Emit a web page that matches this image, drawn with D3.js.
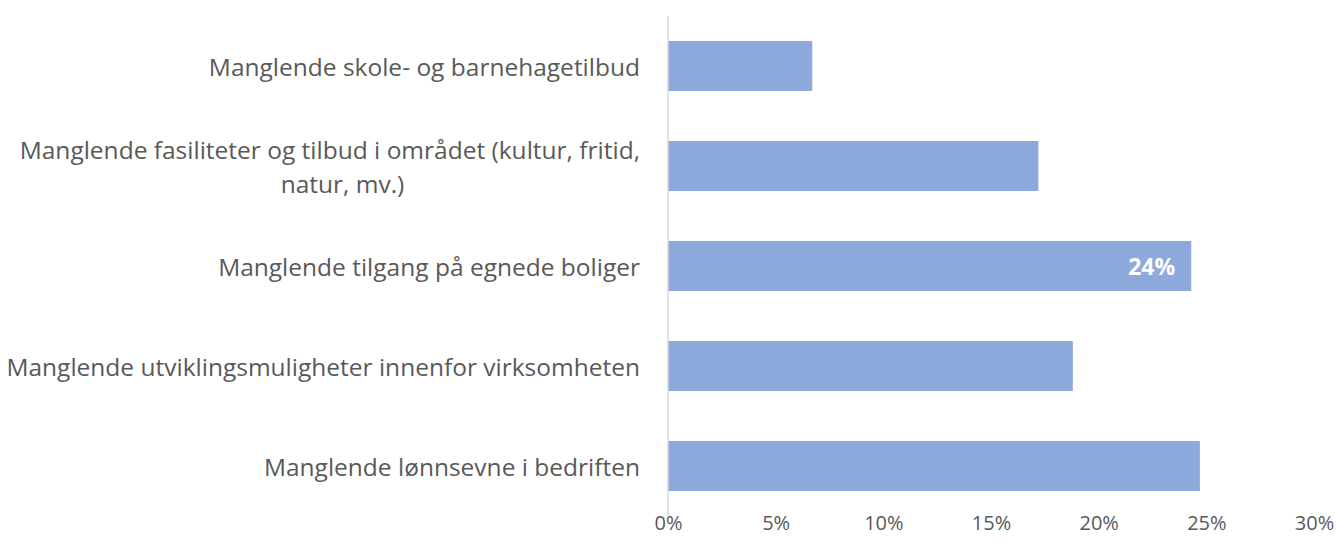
<!DOCTYPE html>
<html>
<head>
<meta charset="utf-8">
<script src="https://cdn.jsdelivr.net/npm/d3@7"></script>
<style>
  body { margin: 0; background: #fff; }
  text { font-family: "Open Sans", Lato, sans-serif; fill: #595959; }
</style>
</head>
<body>
<div id="chart"></div>
<script>
// categories top to bottom, each a list of lines
const categories = [
    ['Manglende skole- og barnehagetilbud'],
    ['Manglende fasiliteter og tilbud i området (kultur, fritid,', 'natur, mv.)'],
    ['Manglende tilgang på egnede boliger'],
    ['Manglende utviklingsmuligheter innenfor virksomheten'],
    ['Manglende lønnsevne i bedriften']
];
const values = [0.067, 0.172, 0.243, 0.188, 0.247];
// only this bar carries a data label in the original
const labelled = [false, false, true, false, false];
const xTicks = [0, 0.05, 0.10, 0.15, 0.20, 0.25, 0.30];

const chartWidth = 1336;
const chartHeight = 556;
const plotLeft = 668;
const plotRight = 1314;
const plotTop = 16;
const plotBottom = 516;

const svg = d3.select('#chart')
    .append('svg')
    .attr('width', chartWidth)
    .attr('height', chartHeight);

const xScale = d3.scaleLinear()
    .domain([0, 0.30])
    .range([plotLeft, plotRight]);

const yScale = d3.scaleBand()
    .domain(d3.range(categories.length))
    .range([plotTop, plotBottom])
    .paddingInner(0.5)
    .paddingOuter(0.25);

// bars
svg.selectAll('rect.bar')
    .data(values)
    .enter()
    .append('rect')
    .attr('class', 'bar')
    .attr('x', xScale(0))
    .attr('y', (d, i) => yScale(i))
    .attr('width', (d) => xScale(d) - xScale(0))
    .attr('height', yScale.bandwidth())
    .attr('fill', '#8EA9DB');

// vertical axis line
svg.append('line')
    .attr('x1', xScale(0)).attr('x2', xScale(0))
    .attr('y1', plotTop).attr('y2', plotBottom)
    .attr('stroke', '#D9D9D9')
    .attr('stroke-width', 1.5);

// x axis, labels only
const xAxis = d3.axisBottom(xScale)
    .tickValues(xTicks)
    .tickFormat(d3.format('.0%'))
    .tickSize(0)
    .tickPadding(0);

const gx = svg.append('g')
    .attr('transform', `translate(0, ${plotBottom})`)
    .call(xAxis);
gx.select('.domain').remove();
gx.attr('font-family', null).attr('font-size', null);
gx.selectAll('text')
    .attr('y', 0)
    .attr('dy', 0)
    .attr('dominant-baseline', 'central')
    .attr('transform', 'translate(0, 6)')
    .style('font-size', '20px');

// category labels
const labelX = xScale(0) - 28;
const lineH = 34;
categories.forEach((lines, i) => {
    const cy = yScale(i) + yScale.bandwidth() / 2;
    const t = svg.append('text')
        .attr('text-anchor', 'end')
        .attr('dominant-baseline', 'central')
        .style('font-size', '24.5px');
    if (lines.length === 1) {
        t.append('tspan').attr('x', labelX).attr('y', cy).text(lines[0]);
    } else {
        const w = 625;
        lines.forEach((ln, j) => {
            t.append('tspan')
                .attr('x', j === 0 ? labelX : labelX - w / 2 + 15)
                .attr('text-anchor', j === 0 ? 'end' : 'middle')
                .attr('y', cy + (j - (lines.length - 1) / 2) * lineH)
                .text(ln);
        });
    }
});

// data label
svg.selectAll('text.val')
    .data(values.map((v, i) => ({ v, i })).filter((d) => labelled[d.i]))
    .enter()
    .append('text')
    .attr('class', 'val')
    .attr('x', (d) => xScale(d.v) - 16)
    .attr('y', (d) => yScale(d.i) + yScale.bandwidth() / 2)
    .attr('text-anchor', 'end')
    .attr('dominant-baseline', 'central')
    .style('fill', '#fff')
    .style('font-weight', 'bold')
    .style('font-size', '23px')
    .text((d) => d3.format('.0%')(d.v));
</script>
</body>
</html>
